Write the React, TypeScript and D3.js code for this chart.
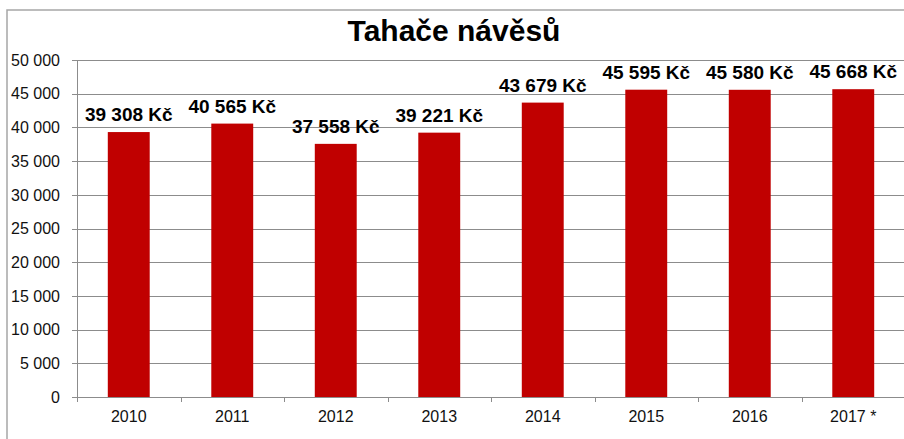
import React, { useEffect, useRef } from 'react'
import * as d3 from 'd3'

const years = ['2010', '2011', '2012', '2013', '2014', '2015', '2016', '2017 *']
const values = [39308, 40565, 37558, 39221, 43679, 45595, 45580, 45668]
const yTicks = [0, 5000, 10000, 15000, 20000, 25000, 30000, 35000, 40000, 45000, 50000]
const title = 'Tahače návěsů'

const fmt = (v: number) => d3.format(',')(v).replace(/,/g, ' ')

export default function App() {
  const svgRef = useRef<SVGSVGElement>(null)

  useEffect(() => {
    if (!svgRef.current) return
    const width = 904
    const height = 439
    const left = 77
    const right = 905
    const top = 60
    const bottom = 397

    const svg = d3.select(svgRef.current)
    svg.selectAll('*').remove()
    svg.attr('width', width).attr('height', height)

    svg.append('rect').attr('width', width).attr('height', height).attr('fill', '#fff')

    // chart frame
    svg.append('path')
      .attr('d', `M7,${height} V10 H${width}`)
      .attr('fill', 'none')
      .attr('stroke', '#a6a6a6')
      .attr('stroke-width', 1.5)

    const x = d3.scaleBand<string>().domain(years).range([left, right]).paddingInner(0.595).paddingOuter(0.2975)
    const y = d3.scaleLinear().domain([0, 50000]).range([bottom, top])

    // gridlines
    svg.append('g')
      .selectAll('line')
      .data(yTicks.filter((t) => t > 0))
      .enter()
      .append('line')
      .attr('x1', left)
      .attr('x2', right)
      .attr('y1', (d) => Math.round(y(d)) + 0.5)
      .attr('y2', (d) => Math.round(y(d)) + 0.5)
      .attr('stroke', '#8c8c8c')
      .attr('stroke-width', 1)

    // bars
    svg.append('g')
      .selectAll('rect')
      .data(values)
      .enter()
      .append('rect')
      .attr('x', (d, i) => x(years[i]) as number)
      .attr('width', x.bandwidth())
      .attr('y', (d) => y(d))
      .attr('height', (d) => y(0) - y(d))
      .attr('fill', '#c00000')

    // y axis
    const yAxis = svg.append('g')
    yAxis.append('line')
      .attr('x1', left + 0.5).attr('x2', left + 0.5)
      .attr('y1', top).attr('y2', bottom + 5)
      .attr('stroke', '#8c8c8c')
    yAxis.selectAll('line.tick')
      .data(yTicks)
      .enter()
      .append('line')
      .attr('class', 'tick')
      .attr('x1', left - 5).attr('x2', left)
      .attr('y1', (d) => Math.round(y(d)) + 0.5)
      .attr('y2', (d) => Math.round(y(d)) + 0.5)
      .attr('stroke', '#8c8c8c')
    yAxis.selectAll('text')
      .data(yTicks)
      .enter()
      .append('text')
      .attr('x', 60)
      .attr('y', (d) => y(d))
      .attr('dy', '0.36em')
      .attr('text-anchor', 'end')
      .style('font-family', 'Arial, "Liberation Sans", sans-serif')
      .style('font-size', '16px')
      .attr('fill', '#111')
      .text((d) => fmt(d))

    // x axis
    const xAxis = svg.append('g')
    xAxis.append('line')
      .attr('x1', left).attr('x2', right)
      .attr('y1', bottom + 0.5).attr('y2', bottom + 0.5)
      .attr('stroke', '#8c8c8c')
    const step = x.step()
    xAxis.selectAll('line.tick')
      .data(d3.range(years.length + 1))
      .enter()
      .append('line')
      .attr('class', 'tick')
      .attr('x1', (i) => Math.round(left + i * step) + 0.5)
      .attr('x2', (i) => Math.round(left + i * step) + 0.5)
      .attr('y1', bottom).attr('y2', bottom + 5)
      .attr('stroke', '#8c8c8c')
    xAxis.selectAll('text')
      .data(years)
      .enter()
      .append('text')
      .attr('x', (d) => (x(d) as number) + x.bandwidth() / 2)
      .attr('y', 422)
      .attr('text-anchor', 'middle')
      .style('font-family', 'Arial, "Liberation Sans", sans-serif')
      .style('font-size', '16px')
      .attr('fill', '#111')
      .text((d) => d)

    // value labels
    svg.append('g')
      .selectAll('text')
      .data(values)
      .enter()
      .append('text')
      .attr('x', (d, i) => (x(years[i]) as number) + x.bandwidth() / 2)
      .attr('y', (d) => y(d) - 11)
      .attr('text-anchor', 'middle')
      .style('font-family', 'Arial, "Liberation Sans", sans-serif')
      .style('font-size', '19px')
      .style('font-weight', 'bold')
      .attr('fill', '#000')
      .text((d) => `${fmt(d)} Kč`)

    // title
    svg.append('text')
      .attr('x', 454)
      .attr('y', 41)
      .attr('text-anchor', 'middle')
      .style('font-family', 'Arial, "Liberation Sans", sans-serif')
      .style('font-size', '30px')
      .style('font-weight', 'bold')
      .attr('fill', '#000')
      .text(title)
  }, [])

  return <svg ref={svgRef} style={{ position: 'absolute', left: 0, top: 0, display: 'block' }} />
}
